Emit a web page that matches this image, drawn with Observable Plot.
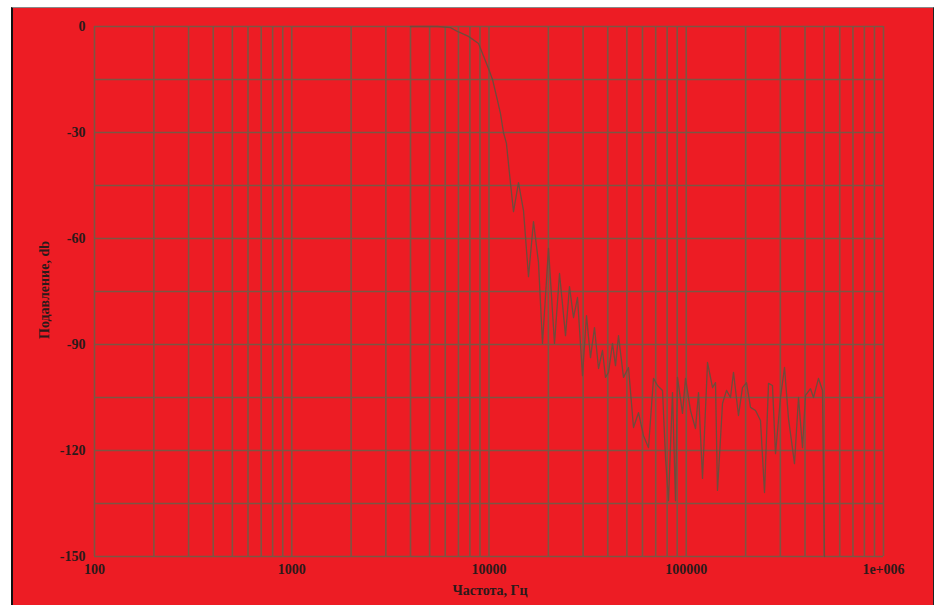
<!DOCTYPE html>
<html>
<head>
<meta charset="utf-8">
<script src="https://cdn.jsdelivr.net/npm/d3@7"></script>
<script src="https://cdn.jsdelivr.net/npm/@observablehq/plot@0.6"></script>
<style>
  html, body { margin: 0; padding: 0; background: #ffffff; width: 939px; height: 605px; overflow: hidden; }
  #frame { position: absolute; left: 11px; top: 7px; width: 920px; height: 610px; background: #ed1c24;
           border-left: 2px solid #111; border-top: 1px solid #888; border-right: 1px solid #222; }
  #chart { position: absolute; left: 0; top: 0; }
  .lbl { position: absolute; font-family: "Liberation Serif", "DejaVu Serif", serif; font-weight: bold; font-size: 14px; color: #2b1a1a; white-space: nowrap; }
  #xlab { left: 490px; top: 583px; transform: translateX(-50%); }
  #ylab { left: 45px; top: 290px; transform: translate(-50%, -50%) rotate(-90deg); }
</style>
</head>
<body>
<div id="frame"></div>
<div id="chart"></div>
<div class="lbl" id="xlab">Частота, Гц</div>
<div class="lbl" id="ylab">Подавление, db</div>
<script>
// Frequency (Hz) and attenuation (dB)
const freq = [4000, 5480, 6380, 6920, 7870, 8850, 9940, 10420, 11040, 11430, 11840, 12260, 12700, 13310, 14110, 14960, 15860, 16810, 17820, 18670,
  20030, 21480, 22780, 24430, 25590, 26820, 28100, 29790, 31210, 32700, 34260, 35910, 37620, 38960, 40350, 42270, 43780, 45340, 48070, 50960,
  54030, 57270, 60720, 64360, 68230, 71490, 75790, 78490, 81280, 85160, 88190, 90280, 95720, 99130, 105100, 111400, 115400, 120900, 128200, 135900,
  140700, 144000, 152700, 160000, 167600, 173600, 184000, 192800, 202100, 211700, 224500, 237900, 249300, 261200, 273600, 283500, 300500, 314900, 329900, 353800,
  370800, 388400, 402300, 426500, 441700, 468200, 490600, 502100];
const db = [0, 0, -0.3, -1.4, -2.8, -4.8, -11.9, -15, -20.9, -24.6, -30, -33.1, -41.6, -52.4, -44.2, -52.1, -70.8, -55.2, -66.8, -89.7,
  -62.8, -89.7, -69.9, -87.5, -73.6, -82.4, -76.7, -98.8, -81.8, -93.7, -85.2, -96.8, -91.7, -99.3, -97.9, -89.7, -96.0, -87.5, -99.3, -96.5,
  -113.5, -109.3, -115.8, -119.2, -99.6, -101.6, -103.0, -122.0, -134.2, -103.6, -134.2, -99.3, -109.5, -99.6, -108.7, -113.8, -103.6, -127.9, -95.1, -102.2,
  -100.8, -131.3, -106.7, -103.0, -105.0, -97.9, -110.1, -102.2, -100.8, -107.8, -108.7, -111.5, -131.9, -101.0, -101.6, -120.9, -105.0, -96.5, -111.0, -123.7,
  -105.0, -119.2, -104.4, -102.5, -105.0, -99.6, -103.0, -150];

const xTicks = [100, 1000, 10000, 100000, 1000000];
const xTickLabels = ["100", "1000", "10000", "100000", "1e+006"];
const yTicks = [0, -30, -60, -90, -120, -150];
const yTickLabels = ["0", "-30", "-60", "-90", "-120", "-150"];
const xGrid = [100, 200, 300, 400, 500, 600, 700, 800, 900,
  1000, 2000, 3000, 4000, 5000, 6000, 7000, 8000, 9000,
  10000, 20000, 30000, 40000, 50000, 60000, 70000, 80000, 90000,
  100000, 200000, 300000, 400000, 500000, 600000, 700000, 800000, 900000, 1000000];
const yGrid = [0, -15, -30, -45, -60, -75, -90, -105, -120, -135, -150];

const rows = freq.map((f, i) => ({f, db: db[i]}));
const gridColor = "#7c5643";

const chart = Plot.plot({
  width: 939,
  height: 605,
  marginLeft: 94,
  marginRight: 56,
  marginTop: 26,
  marginBottom: 49,
  style: {background: "transparent", fontFamily: "'Liberation Serif', serif", fontWeight: "bold", fontSize: "14px", color: "#2b1a1a"},
  x: {type: "log", domain: [100, 1000000]},
  y: {domain: [-150, 0]},
  marks: [
    Plot.ruleX(xGrid, {x: d => d, stroke: gridColor, strokeWidth: 1.6}),
    Plot.ruleY(yGrid, {y: d => d, stroke: gridColor, strokeWidth: 1.6}),
    Plot.line(rows, {x: "f", y: "db", stroke: "#6e4c3c", strokeWidth: 1.3, curve: "linear"}),
    Plot.axisX(xTicks, {tickSize: 0, tickPadding: 8, label: null, tickFormat: d => xTickLabels[xTicks.indexOf(d)], fill: "#2b1a1a"}),
    Plot.axisY(yTicks, {tickSize: 0, tickPadding: 9, label: null, tickFormat: d => yTickLabels[yTicks.indexOf(d)], fill: "#2b1a1a"})
  ]
});
document.getElementById("chart").appendChild(chart);
</script>
</body>
</html>
